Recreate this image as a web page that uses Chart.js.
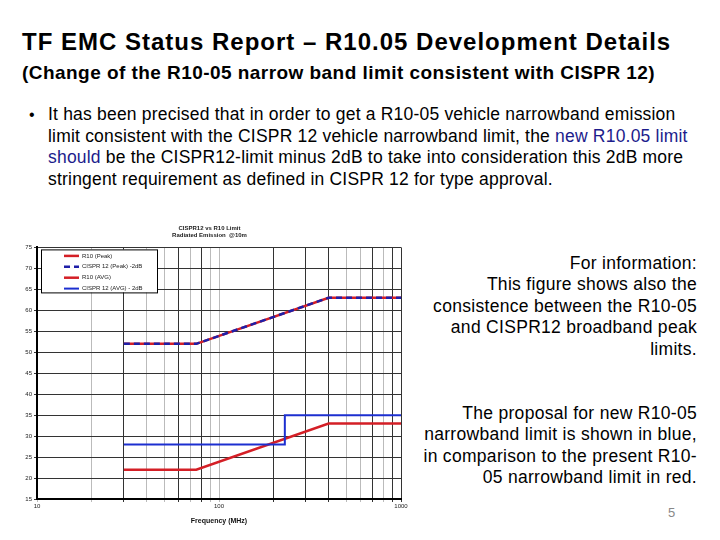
<!DOCTYPE html>
<html>
<head>
<meta charset="utf-8">
<script src="https://cdn.jsdelivr.net/npm/chart.js@4"></script>
<style>
  body { margin: 0; background: #fff; font-family: "Liberation Sans", Arial, sans-serif; }
  #page { position: relative; width: 720px; height: 540px; overflow: hidden; }
  .t { position: absolute; white-space: nowrap; color: #000; }
  #title { left: 22px; top: 28px; font-size: 24px; font-weight: bold; letter-spacing: 1px; }
  #sub { left: 22px; top: 62px; font-size: 19px; font-weight: bold; letter-spacing: 0.45px; }
  #bullet { left: 48px; top: 104px; font-size: 17.5px; line-height: 21.7px; letter-spacing: 0.2px; }
  #dot { left: 29px; top: 104px; font-size: 16px; line-height: 21.7px; }
  .blue { color: #1c1c8c; }
  .right { right: 23px; text-align: right; font-size: 17.5px; line-height: 21.4px; letter-spacing: 0.3px; }
  #info { top: 253px; }
  #prop { top: 403px; }
  #num { left: 668px; top: 505px; font-size: 13px; color: #888; }
  #chartBox { position: absolute; left: 18px; top: 220px; width: 392px; height: 305px; }
</style>
</head>
<body>
<div id="page">
  <div class="t" id="title">TF EMC Status Report – R10.05 Development Details</div>
  <div class="t" id="sub">(Change of the R10-05 narrow band limit consistent with CISPR 12)</div>
  <div class="t" id="dot">•</div>
  <div class="t" id="bullet">It has been precised that in order to get a R10-05 vehicle narrowband emission<br>limit consistent with the CISPR 12 vehicle narrowband limit, the <span class="blue">new R10.05 limit</span><br><span class="blue">should</span> be the CISPR12-limit minus 2dB to take into consideration this 2dB more<br>stringent requirement as defined in CISPR 12 for type approval.</div>
  <div class="t right" id="info">For information:<br>This figure shows also the<br>consistence between the R10-05<br>and CISPR12 broadband peak<br>limits.</div>
  <div class="t right" id="prop">The proposal for new R10-05<br>narrowband limit is shown in blue,<br>in comparison to the present R10-<br>05 narrowband limit in red.</div>
  <div class="t" id="num">5</div>
  <div id="chartBox"><canvas id="limitChart"></canvas></div>
</div>
<script>
// frequencies in MHz, levels in dB(uV/m)
const peakFreq = [30, 75, 400, 1000];
const r10Peak = [52, 52, 63, 63];
const cisprPeak = [52, 52, 63, 63];
const r10Avg = [22, 22, 33, 33];
const avgFreq = [30, 230, 230, 1000];
const cisprAvg = [28, 28, 35, 35];

const seriesNames = ["R10 (Peak)", "CISPR 12 (Peak) -2dB", "R10 (AVG)", "CISPR 12 (AVG) - 2dB"];
const xLabels = [10, 100, 1000];
const yMin = 15, yMax = 75, yStep = 5;

// the scanned original has some grid lines darker than others
const darkGrid = [30, 60, 80, 200, 300, 400, 700, 900, 1000];

function pts(xs, ys) {
    return xs.map((x, i) => ({ x: x, y: ys[i] }));
}

const RED = "#d41f26";
const BLUE = "#1f1fa8";
const BLUE2 = "#1c2fd0";

// legend drawn inside the plot, top left
const boxLegend = {
    id: "boxLegend",
    afterDatasetsDraw(chart) {
        const ctx = chart.ctx;
        const a = chart.chartArea;
        const x = a.left + 4, y = a.top + 2, w = 116, h = 43;
        ctx.save();
        ctx.fillStyle = "#fff";
        ctx.fillRect(x, y, w, h);
        ctx.strokeStyle = "#000";
        ctx.lineWidth = 1;
        ctx.strokeRect(x + 0.5, y + 0.5, w, h);
        ctx.font = "6px 'Liberation Sans', Arial";
        ctx.textBaseline = "middle";
        chart.data.datasets.forEach((ds, i) => {
            const ly = y + 6.5 + i * 10.9;
            ctx.strokeStyle = ds.borderColor;
            ctx.lineWidth = ds.borderWidth;
            ctx.setLineDash(ds.borderDash || []);
            ctx.beginPath();
            ctx.moveTo(x + 23, ly);
            ctx.lineTo(x + 38, ly);
            ctx.stroke();
            ctx.setLineDash([]);
            ctx.fillStyle = "#222";
            ctx.fillText(ds.label, x + 41, ly);
        });
        ctx.restore();
    }
};

const ctx = document.getElementById("limitChart").getContext("2d");
const chart = new Chart(ctx, {
    type: "line",
    data: {
        datasets: [
            { label: seriesNames[0], data: pts(peakFreq, r10Peak), borderColor: RED, borderWidth: 2.5, pointRadius: 0, order: 2 },
            { label: seriesNames[1], data: pts(peakFreq, cisprPeak), borderColor: BLUE, borderWidth: 2.5, borderDash: [6, 4], pointRadius: 0, order: 1 },
            { label: seriesNames[2], data: pts(peakFreq, r10Avg), borderColor: RED, borderWidth: 2.5, pointRadius: 0, order: 2 },
            { label: seriesNames[3], data: pts(avgFreq, cisprAvg), borderColor: BLUE2, borderWidth: 2, pointRadius: 0, order: 1 }
        ]
    },
    options: {
        responsive: true,
        maintainAspectRatio: false,
        animation: false,
        layout: { padding: { top: 3, right: 9, left: 0, bottom: 0 } },
        plugins: {
            legend: { display: false },
            tooltip: { enabled: false },
            title: {
                display: true,
                text: ["CISPR12 vs R10 Limit", "Radiated Emission  @10m"],
                color: "#222",
                font: { size: 6, family: "'Liberation Sans', Arial" },
                padding: { top: 2, bottom: 8 }
            }
        },
        scales: {
            x: {
                type: "logarithmic",
                min: xLabels[0],
                max: xLabels[xLabels.length - 1],
                afterBuildTicks(scale) {
                    const ticks = [];
                    for (let d = 0; d < xLabels.length - 1; d++) {
                        for (let m = 1; m <= 9; m++) ticks.push({ value: xLabels[d] * m });
                    }
                    ticks.push({ value: xLabels[xLabels.length - 1] });
                    scale.ticks = ticks;
                },
                afterFit(scale) { scale.height = 26; },
                ticks: {
                    autoSkip: false,
                    maxRotation: 0,
                    padding: 1,
                    color: "#222",
                    font: { size: 6, family: "'Liberation Sans', Arial" },
                    callback: (v) => xLabels.includes(v) ? String(v) : ""
                },
                grid: {
                    color: (c) => (c.tick && darkGrid.includes(c.tick.value)) ? "#333" : "#bbb",
                    lineWidth: 1,
                    tickLength: 3
                },
                border: { color: "#000", width: 2 },
                title: {
                    display: true,
                    text: "Frequency (MHz)",
                    color: "#111",
                    font: { size: 7, weight: "bold", family: "'Liberation Sans', Arial" },
                    padding: { top: 0, bottom: 0 }
                }
            },
            y: {
                min: yMin,
                max: yMax,
                afterFit(scale) { scale.width = 19; },
                ticks: {
                    stepSize: yStep,
                    padding: 2,
                    color: "#222",
                    font: { size: 6, family: "'Liberation Sans', Arial" }
                },
                grid: { color: "#333", lineWidth: 1, tickLength: 3 },
                border: { color: "#000", width: 2 }
            }
        }
    },
    plugins: [boxLegend]
});
</script>
</body>
</html>
